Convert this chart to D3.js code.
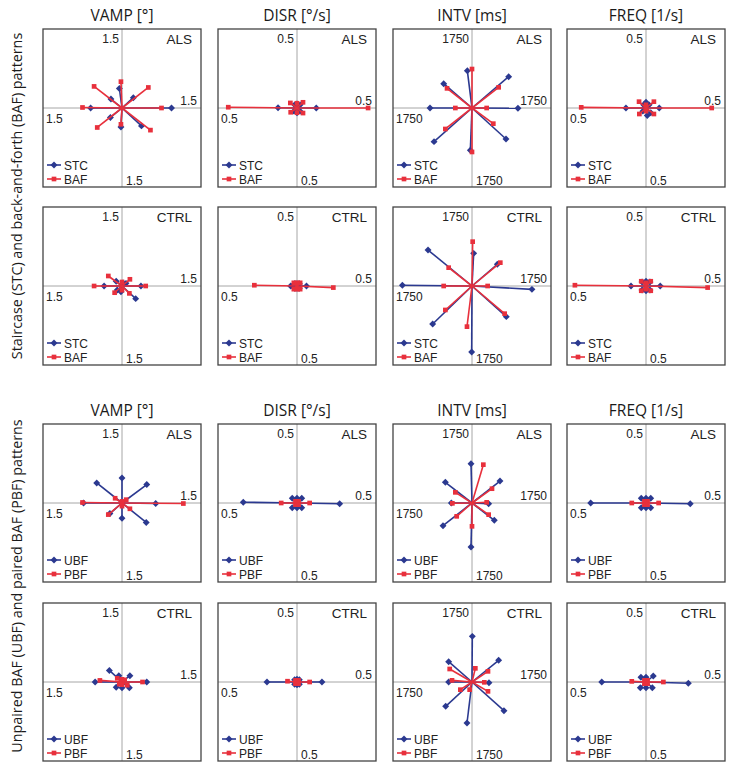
<!DOCTYPE html>
<html><head><meta charset="utf-8">
<script src="https://cdn.jsdelivr.net/npm/d3@7"></script>
<style>body{margin:0;background:#fff}</style>
</head><body>
<script>
// ---------- DATA ----------
const metrics = ["VAMP [°]", "DISR [°/s]", "INTV [ms]", "FREQ [1/s]"];
const axisMax = [1.5, 0.5, 1750, 0.5];
const axisLabels = ["1.5", "0.5", "1750", "0.5"];
const groups = ["ALS", "CTRL", "ALS", "CTRL"];
const seriesNamesTop = ["STC", "BAF"];
const seriesNamesBottom = ["UBF", "PBF"];
const rowLabels = ["Staircase (STC) and back-and-forth (BAF) patterns",
                   "Unpaired BAF (UBF) and paired BAF (PBF) patterns"];
// points ordered: right, upper-right, up, upper-left, left, lower-left, down, lower-right ([x, y] in data units)
// Row 1: ALS, STC / BAF
const stcAlsVamp = [[0.94,0],[0.215,0.196],[-0.05,0.37],[-0.21,0.17],[-0.595,0],[-0.22,-0.18],[-0.02,-0.36],[0.37,-0.34]];
const bafAlsVamp = [[0.75,0],[0.5,0.39],[-0.02,0.5],[-0.53,0.41],[-0.75,0.01],[-0.47,-0.37],[-0.02,-0.31],[0.54,-0.42]];
const stcAlsDisr = [[0.122,0],[0.02,0.02],[0,0.025],[-0.015,0.02],[-0.12,0.002],[-0.02,-0.02],[0,-0.03],[0.02,-0.02]];
const bafAlsDisr = [[0.45,0],[0.038,0.036],[0,0.03],[-0.042,0.032],[-0.435,0.005],[-0.04,-0.027],[0,-0.03],[0.038,-0.032]];
const stcAlsIntv = [[1018,-7],[812,694],[-103,827],[-627,539],[-930,0],[-841,-745],[-37,-937],[753,-686]];
const bafAlsIntv = [[325,0],[590,458],[0,863],[-553,435],[-369,0],[-590,-465],[0,-974],[472,-347]];
const stcAlsFreq = [[0.084,0],[0.02,0.02],[0,0.036],[-0.015,0.02],[-0.127,0],[-0.02,-0.02],[0.008,-0.048],[0.03,-0.03]];
const bafAlsFreq = [[0.416,0],[0.05,0.04],[0,0.02],[-0.044,0.04],[-0.41,0.004],[-0.042,-0.038],[0,-0.02],[0.05,-0.038]];
// Row 2: CTRL, STC / BAF
const stcCtrlVamp = [[0.36,0],[0.076,0.05],[0.02,0.06],[-0.11,0.09],[-0.34,0],[-0.09,-0.076],[-0.02,-0.11],[0.26,-0.24]];
const bafCtrlVamp = [[0.45,0],[0.15,0.127],[0,0.076],[-0.26,0.19],[-0.53,0],[-0.14,-0.127],[0,-0.08],[0.14,-0.14]];
const stcCtrlDisr = [[0.06,0],[0.015,0.015],[0,0.015],[-0.015,0.015],[-0.04,0],[-0.015,-0.015],[0,-0.015],[0.015,-0.015]];
const bafCtrlDisr = [[0.23,-0.01],[0.02,0.02],[0,0.02],[-0.02,0.02],[-0.27,0.005],[-0.02,-0.02],[0,-0.02],[0.02,-0.02]];
const stcCtrlIntv = [[1328,-74],[561,480],[37,723],[-974,797],[-1542,15],[-871,-841],[-7,-1461],[760,-679]];
const bafCtrlIntv = [[347,0],[627,517],[15,982],[-517,406],[-627,0],[-590,-531],[-111,-900],[723,-613]];
const stcCtrlFreq = [[0.09,0],[0.025,0.025],[0,0.03],[-0.025,0.025],[-0.095,0],[-0.025,-0.025],[0,-0.03],[0.025,-0.025]];
const bafCtrlFreq = [[0.39,-0.01],[0.03,0.03],[0,0.02],[-0.03,0.03],[-0.45,0.005],[-0.03,-0.03],[0,-0.02],[0.03,-0.03]];
// Row 3: ALS, UBF / PBF
const ubfAlsVamp = [[0.64,-0.01],[0.47,0.35],[0,0.475],[-0.48,0.38],[-0.73,0],[-0.23,-0.2],[0,-0.29],[0.46,-0.37]];
const pbfAlsVamp = [[1.165,-0.01],[0.08,0.063],[0,0.03],[-0.13,0.09],[-0.75,0.01],[-0.26,-0.22],[0,-0.06],[0.15,-0.11]];
const ubfAlsDisr = [[0.27,-0.005],[0.03,0.03],[0,0.03],[-0.03,0.03],[-0.34,0.005],[-0.03,-0.03],[0,-0.03],[0.03,-0.03]];
const pbfAlsDisr = [[0.08,0],[0.01,0.01],[0,0.01],[-0.01,0.01],[-0.1,0],[-0.01,-0.01],[0,-0.01],[0.01,-0.01]];
const ubfAlsIntv = [[369,-15],[620,487],[-22,871],[-590,458],[-458,0],[-642,-502],[-22,-974],[494,-384]];
const pbfAlsIntv = [[325,15],[443,317],[251,849],[-369,236],[-435,-7],[-339,-295],[0,-517],[369,-258]];
const ubfAlsFreq = [[0.28,-0.005],[0.03,0.03],[0,0.03],[-0.03,0.03],[-0.35,0],[-0.03,-0.03],[0,-0.03],[0.03,-0.03]];
const pbfAlsFreq = [[0.08,0],[0.01,0.01],[0,0.01],[-0.01,0.01],[-0.09,0],[-0.01,-0.01],[0,-0.01],[0.01,-0.01]];
// Row 4: CTRL, UBF / PBF
const ubfCtrlVamp = [[0.47,0],[0.15,0.12],[-0.06,0.12],[-0.24,0.22],[-0.51,0],[-0.11,-0.1],[0,-0.11],[0.14,-0.11]];
const pbfCtrlVamp = [[0.39,0],[0.05,0.04],[0,0.05],[-0.09,0.07],[-0.42,0.03],[-0.05,-0.04],[0,-0.05],[0.1,-0.06]];
const ubfCtrlDisr = [[0.158,0],[0.015,0.015],[0,0.017],[-0.015,0.015],[-0.19,0],[-0.015,-0.015],[0,-0.017],[0.015,-0.015]];
const pbfCtrlDisr = [[0.08,0],[0.01,0.01],[0,0.01],[-0.01,0.01],[-0.06,0.005],[-0.01,-0.01],[0,-0.01],[0.01,-0.01]];
const ubfCtrlIntv = [[376,-15],[590,480],[7,1011],[-517,450],[-517,0],[-583,-539],[-111,-908],[708,-635]];
const pbfCtrlIntv = [[273,-7],[354,236],[74,303],[-494,288],[-443,37],[-258,-170],[-52,-170],[354,-207]];
const ubfCtrlFreq = [[0.268,-0.008],[0.046,0.038],[0,0.03],[-0.032,0.03],[-0.28,0],[-0.036,-0.036],[0,-0.036],[0.04,-0.036]];
const pbfCtrlFreq = [[0.11,0],[0.01,0.01],[0,0.01],[-0.01,0.01],[-0.09,0.004],[-0.01,-0.01],[0,-0.01],[0.01,-0.01]];

const panelData = [
  [[stcAlsVamp,bafAlsVamp],[stcAlsDisr,bafAlsDisr],[stcAlsIntv,bafAlsIntv],[stcAlsFreq,bafAlsFreq]],
  [[stcCtrlVamp,bafCtrlVamp],[stcCtrlDisr,bafCtrlDisr],[stcCtrlIntv,bafCtrlIntv],[stcCtrlFreq,bafCtrlFreq]],
  [[ubfAlsVamp,pbfAlsVamp],[ubfAlsDisr,pbfAlsDisr],[ubfAlsIntv,pbfAlsIntv],[ubfAlsFreq,pbfAlsFreq]],
  [[ubfCtrlVamp,pbfCtrlVamp],[ubfCtrlDisr,pbfCtrlDisr],[ubfCtrlIntv,pbfCtrlIntv],[ubfCtrlFreq,pbfCtrlFreq]]
];

// ---------- DRAW ----------
const W = 734, H = 769;
const colors = ["#2b3990", "#e8303c"];
const svg = d3.select("body").append("svg").attr("width", W).attr("height", H);
const colCx = [122, 297, 472, 646];
const rowCy = [108, 286, 503, 682];
const R = 79;
const panelFont = "'Liberation Sans', Arial, sans-serif";
const titleFont = "'Open Sans', 'Noto Sans', sans-serif";

// titles
[21, 416].forEach(ty => {
  metrics.forEach((m, c) => {
    svg.append("text").attr("x", colCx[c]).attr("y", ty).attr("text-anchor", "middle")
      .attr("font-family", titleFont).attr("font-size", 15.5).attr("fill", "#1a1a1a").text(m);
  });
});
// row labels
[[22, 196], [22, 586]].forEach(([x, y], i) => {
  svg.append("text").attr("transform", `translate(${x},${y}) rotate(-90)`).attr("text-anchor", "middle")
    .attr("font-family", titleFont).attr("font-size", 14.3).attr("fill", "#1a1a1a").text(rowLabels[i]);
});

const diamond = d3.symbol().type(d3.symbolSquare).size(24);
const square = d3.symbol().type(d3.symbolSquare).size(22);

for (let r = 0; r < 4; r++) {
  for (let c = 0; c < 4; c++) {
    const cx = colCx[c], cy = rowCy[r], mx = axisMax[c];
    const x = d3.scaleLinear().domain([-mx, mx]).range([cx - R, cx + R]);
    const y = d3.scaleLinear().domain([-mx, mx]).range([cy + R, cy - R]);
    const g = svg.append("g");
    const left = cx - R, right = cx + R, top = cy - R, bottom = cy + R;
    g.append("line").attr("x1", left).attr("x2", right).attr("y1", y(0)).attr("y2", y(0))
      .attr("stroke", "#a6a6a6").attr("stroke-width", 1);
    g.append("line").attr("x1", x(0)).attr("x2", x(0)).attr("y1", top).attr("y2", bottom)
      .attr("stroke", "#a6a6a6").attr("stroke-width", 1);
    g.append("rect").attr("x", left).attr("y", top).attr("width", 2 * R).attr("height", 2 * R)
      .attr("fill", "none").attr("stroke", "#444").attr("stroke-width", 1.3);
    const lab = axisLabels[c];
    const tf = {"font-family": panelFont, "font-size": 12, fill: "#222"};
    const addT = (tx, ty, anchor, s, fs) => {
      const t = g.append("text").attr("x", tx).attr("y", ty).attr("text-anchor", anchor).text(s);
      Object.entries(tf).forEach(([k, v]) => t.attr(k, v));
      if (fs) t.attr("font-size", fs);
    };
    addT(x(0) - 3, top + 14, "end", lab);
    addT(right - 4, y(0) - 3, "end", lab);
    addT(left + 3, y(0) + 15, "start", lab);
    addT(x(0) + 4, bottom - 2, "start", lab);
    addT(right - 9, top + 15, "end", groups[r], 13.5);

    const names = r < 2 ? seriesNamesTop : seriesNamesBottom;
    const mark = (s, tx, ty) => s === 0 ? `translate(${tx},${ty}) rotate(45)` : `translate(${tx},${ty})`;
    panelData[r][c].forEach((pts, s) => {
      const sg = g.append("g");
      sg.selectAll("line").data(pts).join("line")
        .attr("x1", x(0)).attr("y1", y(0)).attr("x2", d => x(d[0])).attr("y2", d => y(d[1]))
        .attr("stroke", colors[s]).attr("stroke-width", 1.6);
      sg.selectAll("path").data(pts).join("path")
        .attr("d", s === 0 ? diamond : square)
        .attr("transform", d => mark(s, x(d[0]), y(d[1])))
        .attr("fill", colors[s]);
    });
    // legend
    names.forEach((n, s) => {
      const ly = bottom - 22 + s * 14;
      g.append("line").attr("x1", left + 4).attr("x2", left + 18).attr("y1", ly).attr("y2", ly)
        .attr("stroke", colors[s]).attr("stroke-width", 1.6);
      g.append("path").attr("d", s === 0 ? diamond : square)
        .attr("transform", mark(s, left + 11, ly)).attr("fill", colors[s]);
      addT(left + 21, ly + 4.5, "start", n);
    });
  }
}
</script>
</body></html>
